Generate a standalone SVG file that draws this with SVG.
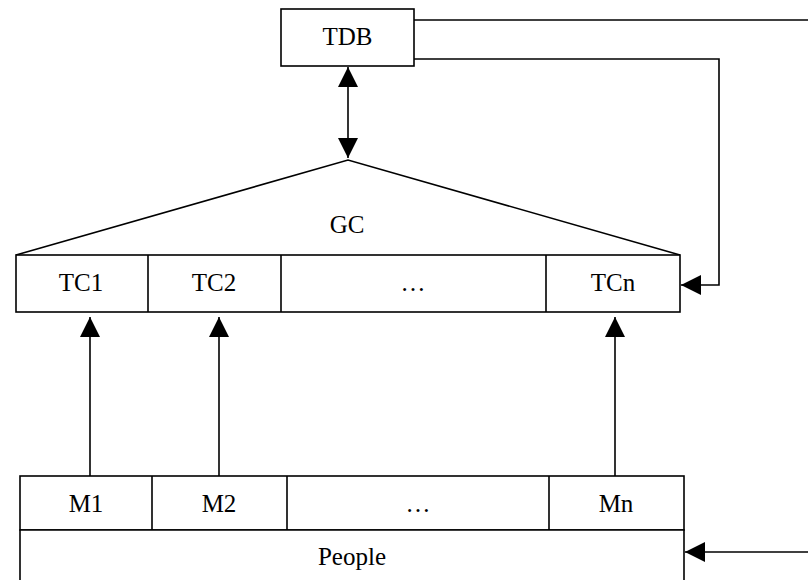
<svg xmlns="http://www.w3.org/2000/svg" width="808" height="580" viewBox="0 0 808 580">
<defs>
<style>
.b{fill:#fff;stroke:#000;stroke-width:1.6}
.l{fill:none;stroke:#000;stroke-width:1.6}
text{font-family:"Liberation Serif","Times New Roman",serif;font-size:25px;text-anchor:middle;fill:#000}
</style>
<marker id="ah" markerUnits="userSpaceOnUse" markerWidth="20" markerHeight="20" viewBox="0 0 20 20" refX="20" refY="10" orient="auto-start-reverse">
<path d="M0,0 L20,10 L0,20 z" fill="#000"/>
</marker>
</defs>
<rect width="808" height="580" fill="#fff"/>
<g id="TDB">
<rect class="b" x="281" y="9" width="133" height="57"/>
<text x="347.5" y="45">TDB</text>
</g>
<g id="GC">
<path class="l" d="M16,255 L348,160 L680,255"/>
<text x="347" y="233">GC</text>
</g>
<g id="TC">
<rect class="b" x="16" y="255" width="664" height="57"/>
<path class="l" d="M148,255 V312 M281,255 V312 M546,255 V312"/>
<text x="81" y="291">TC1</text>
<text x="214" y="291">TC2</text>
<text x="413" y="291">…</text>
<text x="613" y="291">TCn</text>
</g>
<g id="M">
<rect class="b" x="20" y="476" width="664" height="54"/>
<path class="l" d="M152,476 V530 M287,476 V530 M549,476 V530"/>
<text x="86" y="512">M1</text>
<text x="219" y="512">M2</text>
<text x="418" y="512">…</text>
<text x="616" y="512">Mn</text>
</g>
<g id="People">
<path class="b" d="M20,600 V530 H684 V600"/>
<text x="352" y="565">People</text>
</g>
<g id="connectors">
<path class="l" d="M414,20 H808"/>
<path class="l" d="M414,59 H719 V285 H681" marker-end="url(#ah)"/>
<path class="l" d="M348,67 V158" marker-start="url(#ah)" marker-end="url(#ah)"/>
<path class="l" d="M90,476 V317" marker-end="url(#ah)"/>
<path class="l" d="M219,476 V317" marker-end="url(#ah)"/>
<path class="l" d="M615,476 V317" marker-end="url(#ah)"/>
<path class="l" d="M808,552 H685" marker-end="url(#ah)"/>
</g>
</svg>
